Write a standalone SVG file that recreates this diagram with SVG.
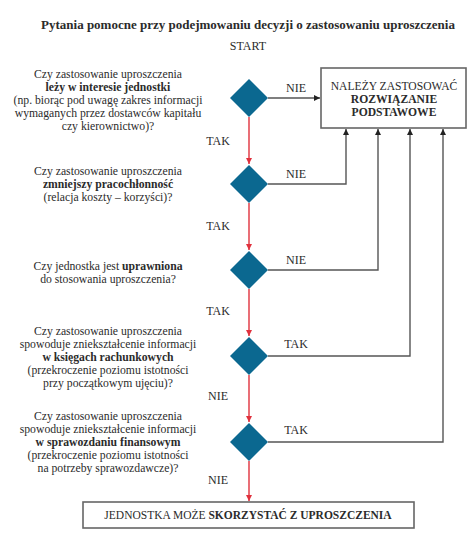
<svg xmlns="http://www.w3.org/2000/svg" width="474" height="538" viewBox="0 0 474 538">
<defs>
<style>
text{font-family:"Liberation Serif","Times New Roman",serif;fill:#2b2b2b;}
.t{font-size:11.7px;text-anchor:middle;}
.b{font-weight:bold;}
.lbl{font-size:12px;text-anchor:middle;}
.dia{fill:#0b6890;}
.gl{fill:none;stroke:#555;stroke-width:1.4;}
.rl{fill:none;stroke:#e0313d;stroke-width:1.4;}
.box{fill:#fff;stroke:#666;stroke-width:1.6;}
</style>
<marker id="ag" viewBox="0 0 10 10" refX="10" refY="5" markerWidth="6" markerHeight="6" markerUnits="userSpaceOnUse" orient="auto"><path d="M0,0 L10,5 L0,10 z" fill="#222"/></marker>
<marker id="ar" viewBox="0 0 10 10" refX="10" refY="5" markerWidth="6" markerHeight="6" markerUnits="userSpaceOnUse" orient="auto"><path d="M0,0 L10,5 L0,10 z" fill="#e0313d"/></marker>
</defs>
<rect width="474" height="538" fill="#fff"/>
<text x="248" y="29" class="b" style="font-size:13px;text-anchor:middle">Pytania pomocne przy podejmowaniu decyzji o zastosowaniu uproszczenia</text>
<text x="248" y="50" style="font-size:12px;text-anchor:middle">START</text>

<g id="connectors">
<path class="gl" d="M268,98 H320" marker-end="url(#ag)"/>
<path class="gl" d="M268,184 H346 V129" marker-end="url(#ag)"/>
<path class="gl" d="M268,270 H378 V129" marker-end="url(#ag)"/>
<path class="gl" d="M268,356 H410 V129" marker-end="url(#ag)"/>
<path class="gl" d="M268,442 H443 V129" marker-end="url(#ag)"/>
<path class="rl" d="M249,117 V164" marker-end="url(#ar)"/>
<path class="rl" d="M249,203 V250" marker-end="url(#ar)"/>
<path class="rl" d="M249,289 V336" marker-end="url(#ar)"/>
<path class="rl" d="M249,375 V422" marker-end="url(#ar)"/>
<path class="rl" d="M249,461 V501" marker-end="url(#ar)"/>
<text x="296" y="92" class="lbl">NIE</text>
<text x="296" y="178" class="lbl">NIE</text>
<text x="296" y="264" class="lbl">NIE</text>
<text x="296" y="348" class="lbl">TAK</text>
<text x="296" y="434" class="lbl">TAK</text>
<text x="218" y="145" class="lbl">TAK</text>
<text x="218" y="230" class="lbl">TAK</text>
<text x="218" y="315" class="lbl">TAK</text>
<text x="218" y="400" class="lbl">NIE</text>
<text x="218" y="484" class="lbl">NIE</text>
</g>

<g id="q1">
<path class="dia" d="M249,79 L268,98 L249,117 L230,98 z"/>
<text class="t"><tspan x="108" y="78">Czy zastosowanie uproszczenia</tspan><tspan x="108" y="91" class="b">leży w interesie jednostki</tspan><tspan x="108" y="104">(np. biorąc pod uwagę zakres informacji</tspan><tspan x="108" y="117">wymaganych przez dostawców kapitału</tspan><tspan x="108" y="130">czy kierownictwo)?</tspan></text>
</g>
<g id="q2">
<path class="dia" d="M249,165 L268,184 L249,203 L230,184 z"/>
<text class="t"><tspan x="108" y="175">Czy zastosowanie uproszczenia</tspan><tspan x="108" y="188" class="b">zmniejszy pracochłonność</tspan><tspan x="108" y="201">(relacja koszty – korzyści)?</tspan></text>
</g>
<g id="q3">
<path class="dia" d="M249,251 L268,270 L249,289 L230,270 z"/>
<text class="t"><tspan x="108" y="270">Czy jednostka jest <tspan class="b">uprawniona</tspan></tspan><tspan x="108" y="283">do stosowania uproszczenia?</tspan></text>
</g>
<g id="q4">
<path class="dia" d="M249,337 L268,356 L249,375 L230,356 z"/>
<text class="t"><tspan x="108" y="335">Czy zastosowanie uproszczenia</tspan><tspan x="108" y="348">spowoduje zniekształcenie informacji</tspan><tspan x="108" y="361" class="b">w księgach rachunkowych</tspan><tspan x="108" y="374">(przekroczenie poziomu istotności</tspan><tspan x="108" y="387">przy początkowym ujęciu)?</tspan></text>
</g>
<g id="q5">
<path class="dia" d="M249,423 L268,442 L249,461 L230,442 z"/>
<text class="t"><tspan x="108" y="420">Czy zastosowanie uproszczenia</tspan><tspan x="108" y="433">spowoduje zniekształcenie informacji</tspan><tspan x="108" y="446" class="b">w sprawozdaniu finansowym</tspan><tspan x="108" y="459">(przekroczenie poziomu istotności</tspan><tspan x="108" y="472">na potrzeby sprawozdawcze)?</tspan></text>
</g>
<g id="basic">
<rect class="box" x="321" y="68" width="145" height="60"/>
<text style="font-size:11.6px;text-anchor:middle"><tspan x="394" y="90">NALEŻY ZASTOSOWAĆ</tspan><tspan x="394" y="103" class="b">ROZWIĄZANIE</tspan><tspan x="394" y="116" class="b">PODSTAWOWE</tspan></text>
</g>
<g id="result">
<rect class="box" x="83" y="502" width="331" height="26"/>
<text x="248" y="519" style="font-size:11.5px;text-anchor:middle">JEDNOSTKA MOŻE <tspan class="b">SKORZYSTAĆ Z UPROSZCZENIA</tspan></text>
</g>
</svg>
